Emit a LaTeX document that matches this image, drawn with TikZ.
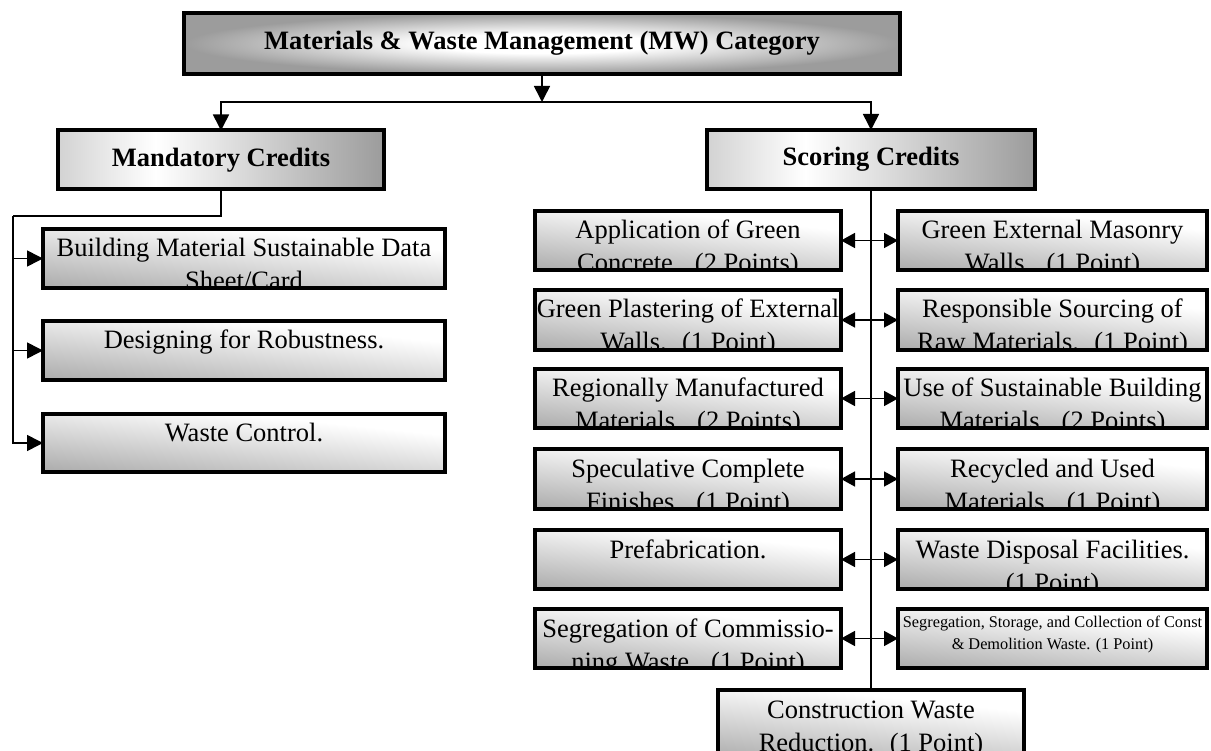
\documentclass[tikz,border=0pt]{standalone}
\usepackage{fontspec}
\setmainfont{Liberation Serif}
\usetikzlibrary{arrows.meta}

% fills of the boxes
\pgfdeclareradialshading{titleshade}{\pgfpoint{0bp}{0bp}}{color(0bp)=(white); color(8bp)=(white); color(25bp)=(gray!78); color(50bp)=(gray!78)}
\pgfdeclarehorizontalshading{headshade}{100bp}{color(0bp)=(gray!35); color(25bp)=(gray!35); color(40bp)=(white); color(75bp)=(gray!78); color(100bp)=(gray!78)}
\pgfdeclareverticalshading{cardshade}{100bp}{color(0bp)=(gray!62); color(25bp)=(gray!62); color(66bp)=(white); color(100bp)=(white)}

\newcommand\cardfont{\fontsize{26.5}{33}\selectfont}
\newcommand\headfont{\fontsize{26.5}{31}\selectfont\bfseries}
\newcommand\smallcardfont{\fontsize{16.3}{22.5}\selectfont}

% \card{name}{x1}{y1}{x2}{y2}{first baseline below top}{font}{text}
\newcommand\card[8]{%
  \node[cardbox, minimum width={#4-#2-4}, minimum height={#5-#3-4}] (#1) at ({(#2+#4)/2},{(#3+#5)/2}) {};
  \begin{scope}
    \clip ([shift={(2pt,-2pt)}]#1.north west) rectangle ([shift={(-2pt,2pt)}]#1.south east);
    \node[cardtext, font=#7, yshift={-#6pt}] (#1-t) at (#1.north)
      {\parbox[t]{\dimexpr #4pt-#2pt-4pt\relax}{\centering #8}};
  \end{scope}}

\tikzset{
  edge/.style={draw=black, line width=4pt},
  titlebox/.style={edge, shading=titleshade, inner sep=0pt, outer sep=0pt, font=\headfont},
  headbox/.style={edge, shading=headshade, inner sep=0pt, outer sep=0pt, font=\headfont},
  cardbox/.style={edge, shading=cardshade, shading angle=-6, inner sep=0pt, outer sep=0pt},
  cardtext/.style={anchor=base, inner sep=0pt, outer sep=0pt},
  link/.style={line width=1.6pt},
  arr/.style={link, -{Triangle[length=16pt,width=16pt]}},
  dbl/.style={link, {Triangle[length=14pt,width=15pt]}-{Triangle[length=14pt,width=15pt]}},
}

\begin{document}
\begin{tikzpicture}[x=1pt, y=-1pt]
\useasboundingbox (0,0) rectangle (1211,751);
\clip (0,0) rectangle (1211,751);

% headers
\node[titlebox, minimum width=716, minimum height=61] (title) at (542,43.5)
  {Materials \& Waste Management (MW) Category};
\node[headbox, minimum width=326, minimum height=59] (mand) at (221,160)
  {Mandatory Credits};
\node[headbox, minimum width=328, minimum height=59] (scor) at (871,159.5)
  {Scoring Credits};

% mandatory credits
\card{bm}{41}{227}{447}{290}{28}{\cardfont}{Building Material Sustainable Data\\Sheet/Card}
\card{dr}{41}{319}{447}{382}{28}{\cardfont}{Designing for Robustness.}
\card{wc}{41}{412}{447}{474}{28}{\cardfont}{Waste Control.}

% scoring credits, left column
\card{app}{533}{209}{843}{272}{28}{\cardfont}{Application of Green\\Concrete.~ (2 Points)}
\card{gpe}{533}{288}{843}{352}{28}{\cardfont}{Green Plastering of External\\Walls.~ (1 Point)}
\card{rmm}{533}{367}{843}{430}{28}{\cardfont}{Regionally Manufactured\\Materials.~ (2 Points)}
\card{scf}{533}{447}{843}{511}{28}{\cardfont}{Speculative Complete\\Finishes.~ (1 Point)}
\card{pre}{533}{528}{843}{591}{28}{\cardfont}{Prefabrication.}
\card{scw}{533}{607}{843}{670}{28}{\cardfont}{Segregation of Commissio-\\ning Waste.~ (1 Point)}

% scoring credits, right column
\card{gem}{896}{209}{1209}{272}{28}{\cardfont}{Green External Masonry\\Walls.~ (1 Point)}
\card{rsr}{896}{288}{1209}{352}{28}{\cardfont}{Responsible Sourcing of\\Raw Materials.~ (1 Point)}
\card{usb}{896}{367}{1209}{430}{28}{\cardfont}{Use of Sustainable Building\\Materials.~ (2 Points)}
\card{rum}{896}{447}{1209}{511}{28}{\cardfont}{Recycled and Used\\Materials.~ (1 Point)}
\card{wdf}{896}{528}{1209}{591}{28}{\cardfont}{Waste Disposal Facilities.\\(1 Point)}
\card{ssc}{896}{607}{1209}{670}{18}{\smallcardfont}{Segregation, Storage, and Collection of Const\\\& Demolition Waste. (1 Point)}

% bottom of the spine
\card{cwr}{716}{688}{1026}{762}{28}{\cardfont}{Construction Waste\\Reduction.~ (1 Point)}

% top distribution
\coordinate (hbar) at (0,102);
\draw[arr] (title.south) -- (title.south |- hbar);
\draw[arr] (title.south |- hbar) -| (mand.north);
\draw[arr] (title.south |- hbar) -| (scor.north);

% mandatory bus
\coordinate (lbus) at (13,216);
\draw[link] (mand.south) |- (lbus);
\draw[arr] (lbus) |- (wc.west);
\draw[arr] (lbus |- bm.west) -- (bm.west);
\draw[arr] (lbus |- dr.west) -- (dr.west);

% scoring spine
\draw[link] (scor.south) -- (cwr.north);
\draw[dbl] (app.east) -- (gem.west);
\draw[dbl] (gpe.east) -- (rsr.west);
\draw[dbl] (rmm.east) -- (usb.west);
\draw[dbl] (scf.east) -- (rum.west);
\draw[dbl] (pre.east) -- (wdf.west);
\draw[dbl] (scw.east) -- (ssc.west);
\end{tikzpicture}
\end{document}
